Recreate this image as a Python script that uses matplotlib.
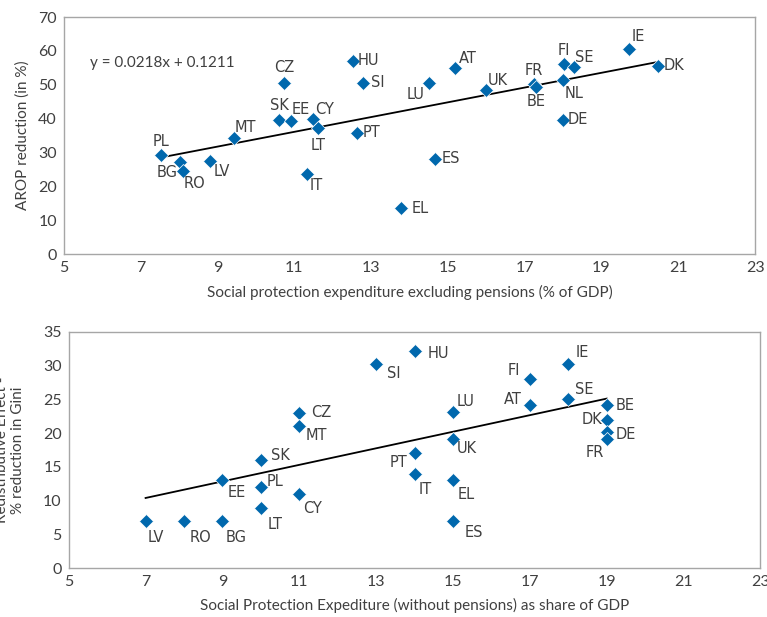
import matplotlib
matplotlib.use("Agg")
import matplotlib.pyplot as plt
import numpy as np

# top panel: AROP reduction vs social protection spending (excl. pensions)
top_countries = ["PL", "BG", "RO", "LV", "MT", "SK", "EE", "CY", "LT", "CZ", "IT",
                 "HU", "SI", "PT", "LU", "EL", "ES", "AT", "UK", "FR", "BE", "FI",
                 "SE", "NL", "DE", "IE", "DK"]
top_x = [7.53, 8.02, 8.09, 8.80, 9.44, 10.60, 10.92, 11.48, 11.62, 10.73, 11.34,
         12.52, 12.80, 12.63, 14.50, 13.78, 14.67, 15.19, 16.00, 17.24, 17.30, 18.02,
         18.28, 18.01, 17.99, 19.73, 20.47]
top_y = [29.2, 27.2, 24.6, 27.6, 34.2, 39.6, 39.4, 39.8, 37.3, 50.6, 23.6,
         57.1, 50.6, 35.8, 50.6, 13.5, 28.1, 54.8, 48.3, 50.1, 49.4, 56.1,
         55.1, 51.4, 39.7, 60.7, 55.6]
# label offsets in pixels (dx, dy)
top_off = [(0, 14), (-13, -11), (12, -13), (12, -11), (11, 11), (0, 14), (9, 11), (12, 10),
           (0, -18), (0, 15), (9, -11), (16, 0), (14, 0), (15, 0), (-13, -12), (19, 0),
           (16, 0), (13, 10), (12, 10), (0, 14), (0, -15), (0, 14), (10, 10), (11, -13),
           (15, 0), (9, 12), (16, 0)]
top_slope, top_icept = 0.0218, 0.1211

# bottom panel: redistributive effect vs social protection spending
bot_countries = ["LV", "RO", "BG", "EE", "SK", "PL", "LT", "CZ", "MT", "CY", "SI", "HU",
                 "LU", "UK", "PT", "IT", "EL", "ES", "FI", "AT", "IE", "SE", "BE", "DK",
                 "DE", "FR"]
bot_x = [7, 8, 9, 9, 10, 10, 10, 11, 11, 11, 13, 14, 15, 15, 14, 14, 15, 15, 17, 17, 18, 18,
         19, 19, 19, 19]
bot_y = [7.0, 7.0, 7.0, 13.0, 16.0, 12.0, 8.9, 23.0, 21.0, 11.0, 30.2, 32.1,
         23.1, 19.1, 17.0, 14.0, 13.0, 7.0, 28.0, 24.1, 30.2, 25.0, 24.1, 22.0,
         20.1, 19.1]
bot_off = [(10, -17), (16, -17), (14, -17), (14, -12), (20, 5), (14, 6), (14, -16), (22, 0),
           (17, -9), (13, -15), (18, -9), (24, -2), (13, 11), (14, -9), (-16, -9), (11, -16),
           (13, -14), (21, -12), (-16, 9), (-17, 6), (14, 12), (16, 10), (18, 0), (-15, 0),
           (19, -2), (-12, -13)]
bot_slope, bot_icept = 1.225, 1.83

BLUE = "#0068AD"
GREY = "#A6A6A6"
TXT = "#404040"
AX_FONT = ["Lato", "DejaVu Sans"]
LBL_FONT = ["Liberation Sans Narrow", "DejaVu Sans"]

fig = plt.figure(figsize=(7.67, 6.17), dpi=100)
ax1 = fig.add_axes([0.0834, 0.5883, 0.9010, 0.3841])
ax2 = fig.add_axes([0.0896, 0.0789, 0.9019, 0.3835])


def style(ax, ylim, ystep):
    ax.set_xlim(5, 23)
    ax.set_ylim(*ylim)
    ax.set_xticks(np.arange(5, 24, 2))
    ax.set_yticks(np.arange(ylim[0], ylim[1] + 1, ystep))
    for s in ax.spines.values():
        s.set_color(GREY)
        s.set_linewidth(1.0)
    ax.tick_params(length=0, pad=5, labelsize=11.5, colors=TXT)
    for t in ax.get_xticklabels() + ax.get_yticklabels():
        t.set_family(AX_FONT)


def scatter(ax, xs, ys, names, offs):
    ax.plot(xs, ys, linestyle="none", marker="D", markersize=7.3, color=BLUE,
            markeredgecolor="white", markeredgewidth=0.5, zorder=3)
    for x, y, n, (dx, dy) in zip(xs, ys, names, offs):
        ax.annotate(n, (x, y), xytext=(dx * 0.72, dy * 0.72), textcoords="offset points",
                    ha="center", va="center", fontsize=10.5, color=TXT, family=LBL_FONT)


# top
style(ax1, (0, 70), 10)
xl = np.array([min(top_x), max(top_x)])
ax1.plot(xl, (top_slope * xl + top_icept) * 100, color="black", lw=1.3, zorder=2)
scatter(ax1, top_x, top_y, top_countries, top_off)
ax1.text(0.038, 0.806, "y = 0.0218x + 0.1211", transform=ax1.transAxes, fontsize=11,
         color=TXT, family=AX_FONT, va="center")
ax1.set_xlabel("Social protection expenditure excluding pensions (% of GDP)",
               fontsize=11, color=TXT, family=AX_FONT, labelpad=7)
ax1.set_ylabel("AROP reduction (in %)", fontsize=11, color=TXT, family=AX_FONT, labelpad=6)

# bottom
style(ax2, (0, 35), 5)
xl = np.array([min(bot_x), max(bot_x)])
ax2.plot(xl, bot_slope * xl + bot_icept, color="black", lw=1.3, zorder=2)
scatter(ax2, bot_x, bot_y, bot_countries, bot_off)
ax2.set_xlabel("Social Protection Expediture (without pensions) as share of GDP",
               fontsize=11, color=TXT, family=AX_FONT, labelpad=6)
ax2.set_ylabel("Redistributive Effect -\n% reduction in Gini", fontsize=11, color=TXT,
               family=AX_FONT, linespacing=1.2)
ax2.yaxis.set_label_coords(-0.063, 0.5)

fig.savefig("out.png", dpi=100)
